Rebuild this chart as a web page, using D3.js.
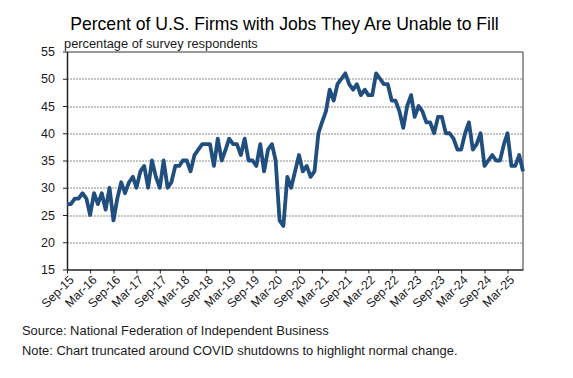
<!DOCTYPE html>
<html>
<head>
<meta charset="utf-8">
<script src="https://cdn.jsdelivr.net/npm/d3@7"></script>
<style>
  body { margin: 0; background: #fff; }
  text { font-family: "Liberation Sans", Arial, sans-serif; fill: #1a1a1a; }
</style>
</head>
<body>
<script>
// monthly readings, Sep 2015 .. Jul 2025
var values = [
  27, 27, 28, 28,
  29, 28, 25, 29, 27, 29, 26, 30, 24, 28, 31, 29,
  31, 32, 30, 33, 34, 30, 35, 32, 30, 35, 30, 31,
  34, 34, 35, 35, 33, 36, 37, 38, 38, 38, 34, 39,
  35, 37, 39, 38, 38, 36, 39, 35, 35, 34, 38, 33,
  37, 38, 35, 24, 23, 32, 30, 33, 36, 33, 34, 32,
  33, 40, 42, 44, 48, 46, 49, 50, 51, 49, 48, 49,
  47, 48, 47, 47, 51, 50, 49, 49, 46, 46, 44, 41,
  45, 47, 43, 45, 44, 42, 42, 40, 43, 43, 40, 40,
  39, 37, 37, 40, 42, 37, 38, 40, 34, 35, 36, 35,
  35, 38, 40, 34, 34, 36, 33
];
var months = d3.timeMonth.range(new Date(2015, 8, 1), new Date(2025, 7, 1));
var yTicks = [15, 20, 25, 30, 35, 40, 45, 50, 55];
var xTicks = months.filter(function(d, i) { return i % 6 === 0; });

var title = "Percent of U.S. Firms with Jobs They Are Unable to Fill";
var subtitle = "percentage of survey respondents";
var source = "Source: National Federation of Independent Business";
var note = "Note: Chart truncated around COVID shutdowns to highlight normal change.";

var width = 573, height = 378;
var margin = {top: 51.5, right: 50, bottom: 108.5, left: 67};
var innerW = width - margin.left - margin.right,
    innerH = height - margin.top - margin.bottom;

var svg = d3.select("body").append("svg")
    .attr("width", width)
    .attr("height", height);

var x = d3.scaleTime()
    .domain([months[0], months[months.length - 1]])
    .range([0, innerW]);
var y = d3.scaleLinear()
    .domain([15, 55])
    .range([innerH, 0]);

var g = svg.append("g")
    .attr("transform", "translate(" + margin.left + "," + margin.top + ")");

// dashed gridlines
g.selectAll(".grid")
    .data(yTicks.filter(function(d) { return d > 15 && d < 55; }))
  .enter().append("line")
    .attr("x1", 0).attr("x2", innerW)
    .attr("y1", function(d) { return Math.round(y(d)) + 0.5; })
    .attr("y2", function(d) { return Math.round(y(d)) + 0.5; })
    .attr("stroke", "#8c8c8c")
    .attr("stroke-width", 1)
    .attr("stroke-dasharray", "2,1");

// top / right frame
g.append("path")
    .attr("d", "M0,0.5H" + innerW + "V" + innerH)
    .attr("fill", "none")
    .attr("stroke", "#333")
    .attr("stroke-width", 1);

// x axis
var xAxis = g.append("g")
    .attr("transform", "translate(0," + innerH + ")")
    .call(d3.axisBottom(x).tickValues(xTicks).tickFormat(d3.timeFormat("%b-%y"))
      .tickSizeInner(4).tickSizeOuter(0));
xAxis.select(".domain").attr("stroke", "#222").attr("stroke-width", 1.5);
xAxis.selectAll(".tick line").attr("stroke", "#222");
xAxis.selectAll("text")
    .style("font-size", "12.3px")
    .attr("text-anchor", "end")
    .attr("transform", "translate(4,8) rotate(-45)")
    .attr("dx", 0).attr("dy", "0.35em").attr("y", 0);

// y axis
var yAxis = g.append("g")
    .call(d3.axisLeft(y).tickValues(yTicks).tickSizeInner(4).tickSizeOuter(0).tickPadding(8));
yAxis.select(".domain").attr("stroke", "#222").attr("stroke-width", 1.5);
yAxis.selectAll(".tick line").attr("stroke", "#222");
yAxis.selectAll("text").style("font-size", "12.5px");

// the series
var line = d3.line()
    .x(function(d, i) { return x(months[i]); })
    .y(function(d) { return y(d); });

g.append("path")
    .datum(values)
    .attr("fill", "none")
    .attr("stroke", "#1f4e7f")
    .attr("stroke-width", 3.8)
    .attr("stroke-linejoin", "round")
    .attr("d", line);

// texts, sized to match the widths in the original
function fitText(sel, target) {
  var fs = parseFloat(sel.style("font-size"));
  var w = sel.node().getComputedTextLength();
  sel.style("font-size", (fs * target / w) + "px");
}

var t = svg.append("text")
    .attr("x", 284.5).attr("y", 29.5)
    .attr("text-anchor", "middle")
    .style("font-size", "17px")
    .style("fill", "#000")
    .text(title);
fitText(t, 429);

var st = svg.append("text")
    .attr("x", 64).attr("y", 48)
    .style("font-size", "12.5px")
    .text(subtitle);
fitText(st, 194);

var s = svg.append("text")
    .attr("x", 22).attr("y", 335)
    .style("font-size", "12.5px")
    .text(source);
fitText(s, 307);

var n = svg.append("text")
    .attr("x", 22).attr("y", 355)
    .style("font-size", "12.5px")
    .text(note);
fitText(n, 436);
</script>
</body>
</html>
